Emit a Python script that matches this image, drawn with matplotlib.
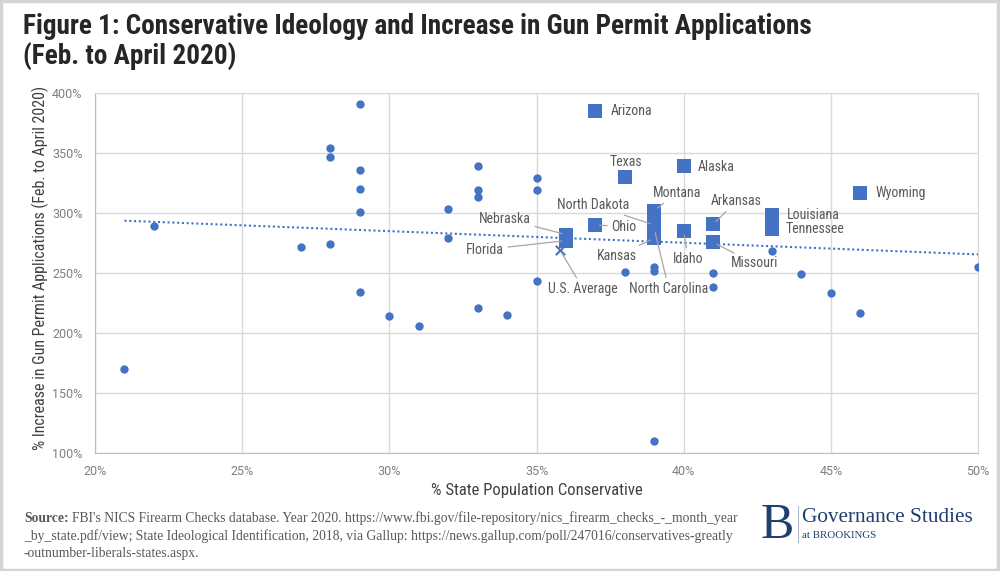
import matplotlib

matplotlib.use("Agg")
import matplotlib.pyplot as plt
from matplotlib.patches import Rectangle
from matplotlib import font_manager

# unlabelled states (circles): % conservative vs % increase in permit applications
circ_x = [21, 22, 27, 28, 28, 28, 29, 29, 29, 29, 29, 30, 31, 32, 32, 33, 33, 33, 33,
          34, 35, 35, 35, 38, 39, 39, 39, 41, 41, 43, 44, 45, 46, 50]
circ_y = [170, 289, 272, 354, 347, 274, 391, 336, 320, 301, 234, 214, 206, 303, 279, 339, 319, 313, 221,
          215, 329, 319, 243, 251, 255, 252, 110, 250, 238, 268, 249, 233, 217, 255]

# labelled states (squares)
states = ["Arizona", "Texas", "Alaska", "Ohio", "Nebraska", "Florida", "Montana", "North Dakota",
          "North Carolina", "Kansas", "Idaho", "Arkansas", "Missouri", "Louisiana", "Tennessee", "Wyoming"]
state_x = [37, 38, 40, 37, 36, 36, 39, 39, 39, 39, 40, 41, 41, 43, 43, 46]
state_y = [385, 330, 339, 290, 282, 277, 302, 290, 287, 279, 285, 290.5, 275.5, 298, 287, 317]

us_avg_x = 35.8
us_avg_y = 269

# linear trendline end points as drawn
trend_x = [21, 50]
trend_y = [293.6, 265.5]

x_ticks = [20, 25, 30, 35, 40, 45, 50]
y_ticks = [100, 150, 200, 250, 300, 350, 400]

BLUE = "#4472C4"
NAVY = "#1F3F6E"

installed = {f.name for f in font_manager.fontManager.ttflist}
NARROW = [f for f in ["Liberation Sans Narrow", "DejaVu Sans Condensed", "Roboto Condensed"] if f in installed] + ["DejaVu Sans"]

# label offsets in pixels (dx, dy up), alignment, leader line
label_pos = {
    "Arizona": (15, 0, "left", False),
    "Texas": (1, 15, "center", False),
    "Alaska": (14, -1, "left", False),
    "Ohio": (16, -1.5, "left", True),
    "Nebraska": (-35, 16, "right", True),
    "Florida": (-62, -9, "right", True),
    "Montana": (23, 18, "center", True),
    "North Dakota": (-25, 20, "right", True),
    "North Carolina": (14.5, -60, "center", True),
    "Kansas": (-17, -17.5, "right", True),
    "Idaho": (4.5, -28, "center", True),
    "Arkansas": (23.5, 23.5, "center", True),
    "Missouri": (17.5, -21, "left", True),
    "Louisiana": (15, 0.5, "left", False),
    "Tennessee": (14, -0.5, "left", False),
    "Wyoming": (15, 0, "left", False),
}

fig = plt.figure(figsize=(10, 5.71), dpi=100)
fig.patches.append(Rectangle((0.001, 0.002), 0.997, 0.996, transform=fig.transFigure,
                             fill=False, edgecolor="#d4d4d4", linewidth=2.5))
ax = fig.add_axes([0.095, 0.2067, 0.883, 0.6304])

ax.plot(trend_x, trend_y, linestyle=(0, (1, 1.3)), color=BLUE, linewidth=1.5, zorder=2)
ax.scatter(circ_x, circ_y, s=36, color=BLUE, linewidths=0, zorder=3)
ax.scatter(state_x, state_y, s=100, marker="s", color=BLUE, linewidths=0, zorder=3)
ax.scatter([us_avg_x], [us_avg_y], s=45, marker="x", color=BLUE, linewidths=1.5, zorder=4)

for name, x, y in zip(states, state_x, state_y):
    dx, dy, ha, leader = label_pos[name]
    arrow = dict(arrowstyle="-", color="#a6a6a6", lw=0.9, shrinkA=1, shrinkB=3) if leader else None
    ax.annotate(name, (x, y), xytext=(dx * 0.72, dy * 0.72), textcoords="offset points",
                ha=ha, va="center", fontsize=10, color="#595959", family=NARROW,
                arrowprops=arrow, zorder=5)
ax.annotate("U.S. Average", (us_avg_x, us_avg_y), xytext=(23 * 0.72, -38.5 * 0.72),
            textcoords="offset points", ha="center", va="center", fontsize=10, color="#595959",
            family=NARROW, arrowprops=dict(arrowstyle="-", color="#a6a6a6", lw=0.9, shrinkA=1, shrinkB=3),
            zorder=5)

ax.set_xlim(20, 50)
ax.set_ylim(100, 400)
ax.set_xticks(x_ticks)
ax.set_yticks(y_ticks)
ax.set_xticklabels([f"{t}%" for t in x_ticks])
ax.set_yticklabels([f"{t}%" for t in y_ticks])
ax.tick_params(length=0, labelsize=9, labelcolor="#7f7f7f", pad=9)
for lab in ax.get_xticklabels() + ax.get_yticklabels():
    lab.set_family(["Roboto", "DejaVu Sans"])
ax.grid(True, color="#d9d9d9", linewidth=1)
ax.set_axisbelow(True)
for sp in ax.spines.values():
    sp.set_color("#d9d9d9")
ax.spines["left"].set_color("#bfbfbf")
ax.spines["bottom"].set_color("#bfbfbf")

fig.text(0.5365, 1 - 491 / 571, "% State Population Conservative", ha="center", va="center",
         fontsize=12, color="#404040", family=NARROW)
fig.text(0.040, 1 - 268 / 571, "% Increase in Gun Permit Applications (Feb. to April 2020)",
         rotation=90, ha="center", va="center", fontsize=11.5, color="#404040", family=NARROW)

fig.text(0.023, 1 - 26 / 571, "Figure 1: Conservative Ideology and Increase in Gun Permit Applications",
         ha="left", va="center", fontsize=19.6, fontweight="bold", color="#262626", family=NARROW)
fig.text(0.023, 1 - 57 / 571, "(Feb. to April 2020)",
         ha="left", va="center", fontsize=19.6, fontweight="bold", color="#262626", family=NARROW)

src_font = ["Liberation Serif", "DejaVu Serif"]
src_lines = [
    "FBI's NICS Firearm Checks database. Year 2020. https://www.fbi.gov/file-repository/nics_firearm_checks_-_month_year",
    "_by_state.pdf/view; State Ideological Identification, 2018, via Gallup: https://news.gallup.com/poll/247016/conservatives-greatly",
    "-outnumber-liberals-states.aspx.",
]
t = fig.text(0.024, 1 - 518 / 571, "Source:", ha="left", va="center", fontsize=9.8,
             fontweight="bold", color="#595959", family=src_font)
fig.canvas.draw()
bb = t.get_window_extent()
fig.text(bb.x1 / 1000 + 0.003, 1 - 518 / 571, src_lines[0], ha="left", va="center", fontsize=9.8,
         color="#595959", family=src_font)
fig.text(0.024, 1 - 536 / 571, src_lines[1], ha="left", va="center", fontsize=9.8,
         color="#595959", family=src_font)
fig.text(0.024, 1 - 553 / 571, src_lines[2], ha="left", va="center", fontsize=9.8,
         color="#595959", family=src_font)

# Brookings logo
fig.text(0.7775, 1 - 526 / 571, "B", ha="center", va="center", fontsize=36, color=NAVY, family=src_font)
fig.add_artist(plt.Line2D([0.7975, 0.7975], [1 - 542 / 571, 1 - 506 / 571], color="#b0b8c8", linewidth=0.8))
fig.text(0.8025, 1 - 518 / 571, "Governance Studies", ha="left", va="center", fontsize=15.3,
         color=NAVY, family=src_font)
fig.text(0.8025, 1 - 536 / 571, "at BROOKINGS", ha="left", va="center", fontsize=7.8,
         color=NAVY, family=src_font)

fig.savefig("out.png", dpi=100)
